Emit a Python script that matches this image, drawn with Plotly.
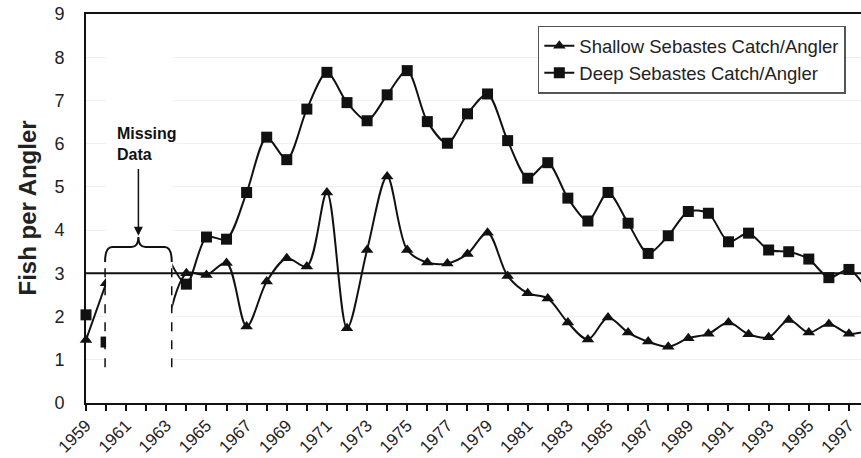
import plotly.graph_objects as go

years = list(range(1959, 1999))
shallow = [1.46, 2.77, None, None, 1.70, 3.00, 2.96, 3.24, 1.77, 2.81, 3.35, 3.16, 4.87, 1.73,
           3.54, 5.24, 3.54, 3.25, 3.23, 3.45, 3.94, 2.94, 2.54, 2.42, 1.86, 1.47, 1.98, 1.63,
           1.42, 1.30, 1.50, 1.60, 1.86, 1.59, 1.52, 1.92, 1.63, 1.83, 1.60, 1.68]
deep = [2.04, 1.41, None, None, 3.45, 2.75, 3.84, 3.79, 4.87, 6.15, 5.63, 6.80, 7.65, 6.95,
        6.53, 7.13, 7.69, 6.51, 6.01, 6.69, 7.15, 6.07, 5.20, 5.56, 4.74, 4.21, 4.87, 4.16,
        3.46, 3.87, 4.43, 4.39, 3.73, 3.93, 3.54, 3.50, 3.33, 2.90, 3.09, 2.55]
reference_level = 3
gap_start, gap_end = 1960.0, 1963.3
x_range = [1959, 1997.6]
y_range = [0, 9]

FONT = "Arial, Liberation Sans, sans-serif"
INK = "#111111"
TXT = "#222222"

fig = go.Figure()
fig.add_trace(go.Scatter(
    x=years, y=shallow, mode="lines+markers", name="Shallow Sebastes Catch/Angler",
    line=dict(color=INK, width=2, shape="spline", smoothing=0.9),
    marker=dict(symbol="triangle-up", size=11, color=INK), cliponaxis=False,
    connectgaps=False))
deep_line = [None if i < 2 else v for i, v in enumerate(deep)]
fig.add_trace(go.Scatter(
    x=years, y=deep_line, mode="lines+markers", name="Deep Sebastes Catch/Angler",
    line=dict(color=INK, width=2, shape="spline", smoothing=0.8),
    marker=dict(symbol="square", size=11, color=INK), cliponaxis=False,
    connectgaps=False))
fig.add_trace(go.Scatter(
    x=years[:2], y=deep[:2], mode="markers", showlegend=False,
    marker=dict(symbol="square", size=11, color=INK), cliponaxis=False))

# mask of the missing-data period
fig.add_shape(type="rect", xref="x", yref="y", x0=gap_start, x1=gap_end, y0=0.08, y1=8.9,
              fillcolor="white", line_width=0, layer="above")
# dashed boundaries
bx0, bx1 = gap_start - 0.05, gap_end - 0.03
for gx in (bx0, bx1):
    fig.add_shape(type="line", xref="x", yref="y", x0=gx, x1=gx, y0=0.83, y1=3.26,
                  line=dict(color=INK, width=1.5, dash="dash"), layer="above")
# brace
bxm = (bx0 + bx1) / 2
ye, yl, yt = 3.26, 3.61, 3.84
d = 0.35
path = (f"M {bx0},{ye} Q {bx0},{yl} {bx0 + d},{yl} L {bxm - d},{yl} "
        f"Q {bxm},{yl} {bxm},{yt} Q {bxm},{yl} {bxm + d},{yl} "
        f"L {bx1 - d},{yl} Q {bx1},{yl} {bx1},{ye}")
fig.add_shape(type="path", xref="x", yref="y", path=path,
              line=dict(color=INK, width=2), layer="above")
# reference line at 3
fig.add_shape(type="line", xref="paper", yref="y", x0=0, x1=1, y0=reference_level,
              y1=reference_level, line=dict(color=INK, width=2), layer="above")

fig.add_annotation(x=bxm, y=yt + 0.03, ax=bxm, ay=5.45, xref="x", yref="y", axref="x", ayref="y",
                   text="", showarrow=True, arrowhead=2, arrowsize=1.2, arrowwidth=1.5,
                   arrowcolor=INK)
fig.add_annotation(x=1960.45, y=6.0, xref="x", yref="y", text="<b>Missing<br>Data</b>",
                   showarrow=False, xanchor="left", yanchor="middle", align="left",
                   font=dict(family=FONT, size=16, color=INK))
# y-axis title
fig.add_annotation(x=-59 / 775, y=0.5, xref="paper", yref="paper", text="<b>Fish per Angler</b>",
                   textangle=-90, showarrow=False, xanchor="center", yanchor="middle",
                   font=dict(family=FONT, size=24, color=TXT))

fig.update_layout(
    width=861, height=458, margin=dict(l=86, r=0, t=14, b=55, autoexpand=False),
    paper_bgcolor="white", plot_bgcolor="white",
    font=dict(family=FONT, size=18, color=TXT),
    showlegend=True,
    legend=dict(x=0.583, y=0.97, xanchor="left", yanchor="top",
                bordercolor="#555555", borderwidth=1.5, bgcolor="white",
                font=dict(family=FONT, size=18.5, color=TXT), tracegroupgap=0),
)
fig.update_xaxes(range=x_range, tick0=1959, dtick=2, tickangle=-45, ticks="outside",
                 ticklen=6, tickwidth=1.5, tickcolor=INK, automargin=False,
                 ticklabelstandoff=-2, ticklabeloverflow="allow",
                 minor=dict(dtick=1, ticks="outside", ticklen=6, tickwidth=1.5, tickcolor=INK),
                 showline=True, linecolor=INK, linewidth=2, mirror=True, showgrid=False,
                 zeroline=False, tickfont=dict(size=17))
fig.update_yaxes(range=y_range, dtick=1, showline=True, linecolor=INK, linewidth=2,
                 showgrid=True, gridcolor="#f0f0f0", gridwidth=1, zeroline=False,
                 ticks="", ticklabelstandoff=16, tickfont=dict(size=18), automargin=False)

fig.write_html("out.html", config={"displayModeBar": False},
               post_script="document.body.style.margin='0';document.body.style.overflow='hidden';")
